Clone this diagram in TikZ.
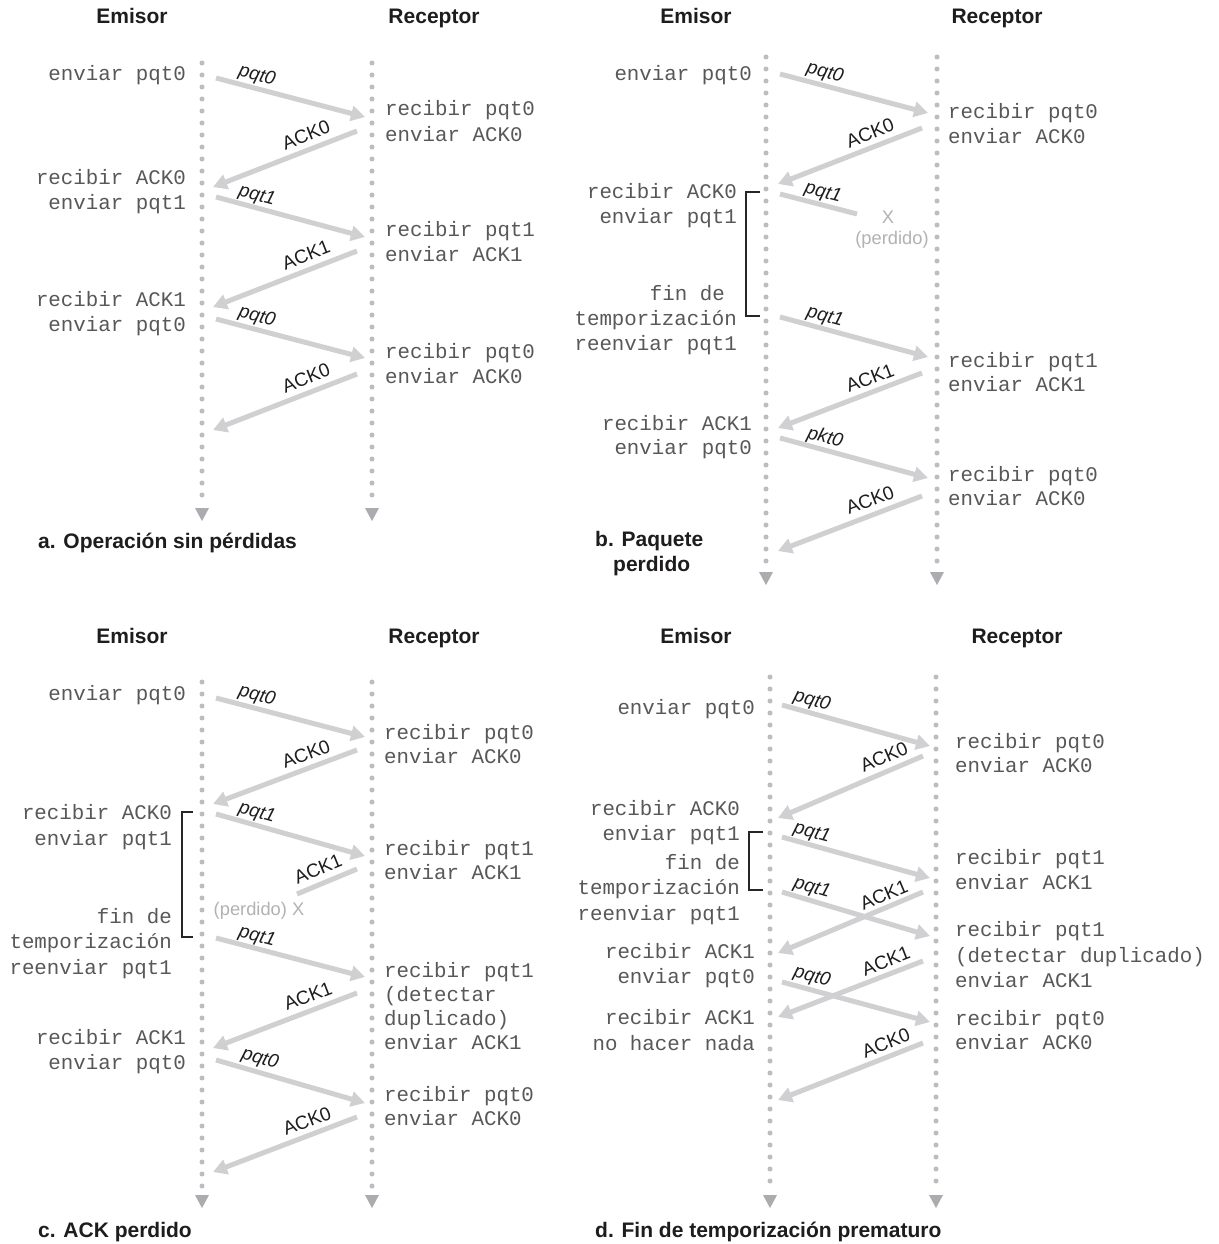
\documentclass[tikz,border=0pt]{standalone}
\usepackage{fontspec}
\setmainfont{Liberation Sans}
\newfontfamily\monof{Liberation Mono}
\usetikzlibrary{arrows.meta}
\definecolor{arrowgray}{RGB}{208,208,210}
\definecolor{dotgray}{RGB}{188,189,193}
\definecolor{trigray}{RGB}{170,172,176}
\definecolor{txtgray}{RGB}{88,88,88}
\definecolor{lostgray}{RGB}{178,178,180}
\definecolor{lblblack}{RGB}{30,28,29}
\tikzset{
 mono/.style={font=\monof\fontsize{20.8}{24}\selectfont, text=txtgray, inner sep=0pt},
 ttl/.style={font=\bfseries\fontsize{21}{24}\selectfont, text=lblblack, inner sep=0pt},
 lbl/.style={font=\fontsize{19}{22}\selectfont, text=lblblack, inner sep=0pt},
 ilbl/.style={font=\itshape\fontsize{19}{22}\selectfont, text=lblblack, inner sep=0pt},
 lost/.style={font=\fontsize{18.3}{22}\selectfont, text=lostgray, inner sep=0pt},
 msg/.style={draw=arrowgray, line width=5pt, -{Triangle[length=14pt,width=15pt]}},
 msglost/.style={draw=arrowgray, line width=5pt},
 brk/.style={draw=black!85, line width=1.1pt},
}
\newcommand\TR[4]{\node[mono,anchor=base east] (#1) at (#2,{#3+6}) {#4};}
\newcommand\TL[4]{\node[mono,anchor=base west] (#1) at (#2,{#3+6}) {#4};}
\newcommand\LB[6]{\node[#1,rotate=#5] (#2) at (#3,#4) {#6};}
\newcommand\AR[3]{\coordinate (#1s) at (#2); \coordinate (#1e) at (#3); \draw[msg] (#1s) -- (#1e);}
\newcommand\ARL[3]{\coordinate (#1s) at (#2); \coordinate (#1e) at (#3); \draw[msglost] (#1s) -- (#1e);}
\newcommand\TLINE[4]{%
 \pgfmathtruncatemacro\ndots{(#3-#2)/12}%
 \foreach \kk in {0,...,\ndots} \fill[dotgray] (#1,{#2+12*\kk}) circle (2.5pt);
 \fill[trigray] ({#1-7},{#3+7}) -- ({#1+7},{#3+7}) -- (#1,{#3+20}) -- cycle;}
\begin{document}
\begin{tikzpicture}[x=1pt,y=-1pt]
\fill[white] (0,0) rectangle (1218,1244);
\useasboundingbox (0,0) rectangle (1218,1244);

% ---------------- timelines
\TLINE{202}{63}{501}{}
\TLINE{372}{63}{501}{}
\TLINE{766}{57}{565}{}
\TLINE{937}{57}{565}{}
\TLINE{202}{682}{1188}{}
\TLINE{372}{682}{1188}{}
\TLINE{770}{677}{1188}{}
\TLINE{936}{677}{1188}{}

% ---------------- titles and captions
\node[ttl,anchor=base] (tEa) at (132,24) {Emisor};
\node[ttl,anchor=base] (tRa) at (434,24) {Receptor};
\node[ttl,anchor=base] (tEb) at (696,24) {Emisor};
\node[ttl,anchor=base] (tRb) at (997,24) {Receptor};
\node[ttl,anchor=base] (tEc) at (132,643) {Emisor};
\node[ttl,anchor=base] (tRc) at (434,643) {Receptor};
\node[ttl,anchor=base] (tEd) at (696,643) {Emisor};
\node[ttl,anchor=base] (tRd) at (1017,643) {Receptor};
\node[ttl,anchor=base west] (capa) at (38,548) {a. Operación sin pérdidas};
\node[ttl,anchor=base west] (capb1) at (595,546) {b. Paquete};
\node[ttl,anchor=base west] (capb2) at (613,571) {perdido};
\node[ttl,anchor=base west] (capc) at (38,1237) {c. ACK perdido};
\node[ttl,anchor=base west] (capd) at (595,1237) {d. Fin de temporización prematuro};

% ---------------- panel a
\TR{aE1}{186}{75}{enviar pqt0}
\TR{aE2}{186}{178}{recibir ACK0}
\TR{aE3}{186}{203}{enviar pqt1}
\TR{aE4}{186}{300}{recibir ACK1}
\TR{aE5}{186}{325}{enviar pqt0}
\TL{aR1}{385}{110}{recibir pqt0}
\TL{aR2}{385}{135}{enviar ACK0}
\TL{aR3}{385}{230}{recibir pqt1}
\TL{aR4}{385}{255}{enviar ACK1}
\TL{aR5}{385}{352}{recibir pqt0}
\TL{aR6}{385}{377}{enviar ACK0}
\AR{a1}{216,78}{365,117}
\AR{a2}{357,131}{213,187}
\AR{a3}{216,197}{365,237}
\AR{a4}{357,251}{213,307}
\AR{a5}{216,319}{365,358}
\AR{a6}{357,374}{213,430}
\LB{ilbl}{la1}{257}{76}{-14.7}{pqt0}
\LB{lbl}{la2}{306}{135}{21.3}{ACK0}
\LB{ilbl}{la3}{257}{196}{-15}{pqt1}
\LB{lbl}{la4}{306}{255}{21.3}{ACK1}
\LB{ilbl}{la5}{257}{317}{-14.7}{pqt0}
\LB{lbl}{la6}{306}{378}{21.3}{ACK0}

% ---------------- panel b
\TR{bE1}{752}{75}{enviar pqt0}
\TR{bE2}{737}{192}{recibir ACK0}
\TR{bE3}{737}{217}{enviar pqt1}
\TR{bE4}{725}{294}{fin de}
\TR{bE5}{737}{319}{temporización}
\TR{bE6}{737}{344}{reenviar pqt1}
\TR{bE7}{752}{424}{recibir ACK1}
\TR{bE8}{752}{448}{enviar pqt0}
\TL{bR1}{948}{112}{recibir pqt0}
\TL{bR2}{948}{137}{enviar ACK0}
\TL{bR3}{948}{361}{recibir pqt1}
\TL{bR4}{948}{385}{enviar ACK1}
\TL{bR5}{948}{475}{recibir pqt0}
\TL{bR6}{948}{499}{enviar ACK0}
\draw[brk] (760,192) -| (746,316) -- (760,316);
\AR{b1}{780,74}{928,113}
\AR{b2}{922,128}{778,184}
\ARL{b3}{780,194}{857,214}
\AR{b4}{780,317}{928,357}
\AR{b5}{922,373}{778,428}
\AR{b6}{780,438}{928,478}
\AR{b7}{922,496}{778,551}
\LB{ilbl}{lb1}{825}{73}{-14.8}{pqt0}
\LB{lbl}{lb2}{870}{133}{21.3}{ACK0}
\LB{ilbl}{lb3}{823}{193}{-14.6}{pqt1}
\LB{ilbl}{lb4}{825}{317}{-15.1}{pqt1}
\LB{lbl}{lb5}{870}{378}{20.9}{ACK1}
\LB{ilbl}{lb6}{825}{438}{-15.1}{pkt0}
\LB{lbl}{lb7}{870}{500}{20.9}{ACK0}
\node[lost] (xb) at (888,217) {X};
\node[lost] (pb) at (892,240) {(perdido)};

% ---------------- panel c
\TR{cE1}{186}{694}{enviar pqt0}
\TR{cE2}{172}{813}{recibir ACK0}
\TR{cE3}{172}{839}{enviar pqt1}
\TR{cE4}{172}{917}{fin de}
\TR{cE5}{172}{942}{temporización}
\TR{cE6}{172}{968}{reenviar pqt1}
\TR{cE7}{186}{1038}{recibir ACK1}
\TR{cE8}{186}{1063}{enviar pqt0}
\TL{cR1}{384}{733}{recibir pqt0}
\TL{cR2}{384}{757}{enviar ACK0}
\TL{cR3}{384}{849}{recibir pqt1}
\TL{cR4}{384}{873}{enviar ACK1}
\TL{cR5}{384}{971}{recibir pqt1}
\TL{cR6}{384}{995}{(detectar}
\TL{cR7}{384}{1019}{duplicado)}
\TL{cR8}{384}{1043}{enviar ACK1}
\TL{cR9}{384}{1095}{recibir pqt0}
\TL{cR10}{384}{1119}{enviar ACK0}
\draw[brk] (193,812) -| (182,937) -- (193,937);
\AR{c1}{216,698}{365,737}
\AR{c2}{357,750}{213,804}
\AR{c3}{216,814}{365,856}
\ARL{c4}{357,869}{297,894}
\AR{c5}{216,938}{365,977}
\AR{c6}{357,993}{213,1048}
\AR{c7}{216,1060}{365,1103}
\AR{c8}{357,1117}{213,1172}
\LB{ilbl}{lc1}{257}{696}{-14.7}{pqt0}
\LB{lbl}{lc2}{306}{754}{20.6}{ACK0}
\LB{ilbl}{lc3}{257}{813}{-15.7}{pqt1}
\LB{lbl}{lc4}{318}{869}{22.6}{ACK1}
\LB{ilbl}{lc5}{257}{937}{-14.7}{pqt1}
\LB{lbl}{lc6}{308}{996}{20.9}{ACK1}
\LB{ilbl}{lc7}{260}{1059}{-16.1}{pqt0}
\LB{lbl}{lc8}{307}{1121}{20.9}{ACK0}
\node[lost] (pc) at (259,911) {(perdido) X};

% ---------------- panel d
\TR{dE1}{755}{708}{enviar pqt0}
\TR{dE2}{740}{809}{recibir ACK0}
\TR{dE3}{740}{834}{enviar pqt1}
\TR{dE4}{740}{863}{fin de}
\TR{dE5}{740}{888}{temporización}
\TR{dE6}{740}{914}{reenviar pqt1}
\TR{dE7}{755}{952}{recibir ACK1}
\TR{dE8}{755}{977}{enviar pqt0}
\TR{dE9}{755}{1018}{recibir ACK1}
\TR{dE10}{755}{1044}{no hacer nada}
\TL{dR1}{955}{742}{recibir pqt0}
\TL{dR2}{955}{766}{enviar ACK0}
\TL{dR3}{955}{858}{recibir pqt1}
\TL{dR4}{955}{883}{enviar ACK1}
\TL{dR5}{955}{930}{recibir pqt1}
\TL{dR6}{955}{956}{(detectar duplicado)}
\TL{dR7}{955}{981}{enviar ACK1}
\TL{dR8}{955}{1019}{recibir pqt0}
\TL{dR9}{955}{1043}{enviar ACK0}
\draw[brk] (763,832) -| (749,890) -- (763,890);
\AR{d1}{782,705}{930,746}
\AR{d2}{923,756}{778,818}
\AR{d3}{782,837}{930,878}
\AR{d4}{782,892}{930,936}
\AR{d5}{923,892}{778,953}
\AR{d6}{923,961}{778,1017}
\AR{d7}{782,982}{930,1022}
\AR{d8}{923,1043}{778,1100}
\LB{ilbl}{ld1}{812}{701}{-15.5}{pqt0}
\LB{lbl}{ld2}{884}{757}{23.2}{ACK0}
\LB{ilbl}{ld3}{812}{833}{-15.5}{pqt1}
\LB{ilbl}{ld4}{812}{888}{-16.6}{pqt1}
\LB{lbl}{ld5}{884}{895}{22.8}{ACK1}
\LB{lbl}{ld6}{886}{961}{21.1}{ACK1}
\LB{ilbl}{ld7}{812}{977}{-15.1}{pqt0}
\LB{lbl}{ld8}{886}{1043}{21.5}{ACK0}
\end{tikzpicture}
\end{document}
